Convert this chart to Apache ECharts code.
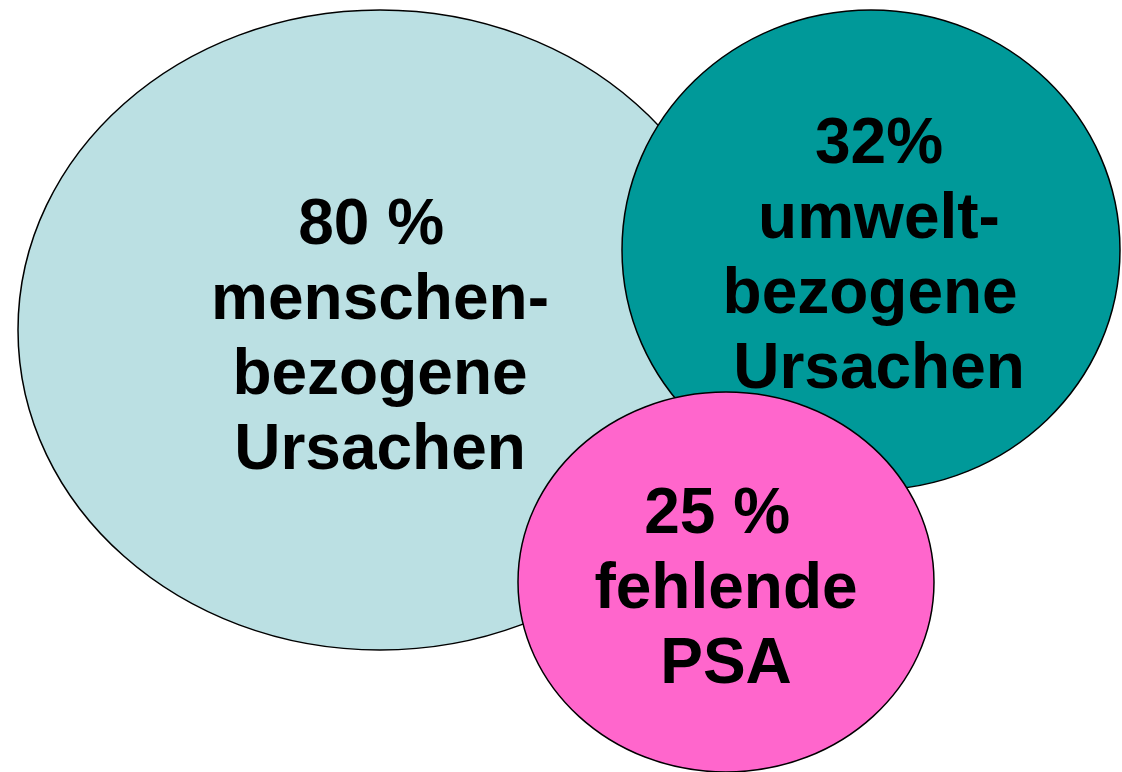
<!DOCTYPE html>
<html>
<head>
<meta charset="utf-8">
<script src="https://cdn.jsdelivr.net/npm/echarts@6/dist/echarts.min.js"></script>
<style>
  html, body { margin: 0; padding: 0; background: #fff; }
  #chart { width: 1122px; height: 772px; }
</style>
</head>
<body>
<div id="chart"></div>
<script>
// Ursachen von Unfällen – drei überlappende Ellipsen
const labels = ['80 % \nmenschen-\nbezogene\nUrsachen', '32%\numwelt-\nbezogene \nUrsachen', '25 % \nfehlende\nPSA']
const shares = [80, 32, 25]
const centerX = [380, 871, 726]
const centerY = [330, 250, 582]
const radiusX = [362, 249, 208]
const radiusY = [320, 240, 190]
const textX = [380, 879, 726]
const textY = [339, 258, 590]
const colors = ['#BBE0E3', '#009999', '#FF66CC']

const chart = echarts.init(document.getElementById('chart'))

const data = labels.map((l, i) => [centerX[i], centerY[i], radiusX[i], radiusY[i], textX[i], textY[i], shares[i]])

chart.setOption({
  animation: false,
  grid: { left: 0, right: 0, top: 0, bottom: 0 },
  xAxis: { type: 'value', min: 0, max: 1122, show: false },
  yAxis: { type: 'value', min: 0, max: 772, inverse: true, show: false },
  series: [{
    type: 'custom',
    data: data,
    renderItem: (params, api) => {
      const i = params.dataIndex
      const c = api.coord([api.value(0), api.value(1)])
      const s = api.size([api.value(2), api.value(3)])
      const t = api.coord([api.value(4), api.value(5)])
      return {
        type: 'group',
        children: [
          {
            type: 'ellipse',
            shape: { cx: c[0], cy: c[1], rx: s[0], ry: s[1] },
            style: { fill: colors[i], stroke: '#000', lineWidth: 1.5 }
          },
          {
            type: 'text',
            x: t[0], y: t[1],
            style: {
              text: labels[i],
              fill: '#000',
              fontFamily: 'Arial, "Liberation Sans", sans-serif',
              fontWeight: 'bold',
              fontSize: 64,
              lineHeight: 75,
              align: 'center',
              verticalAlign: 'middle'
            }
          }
        ]
      }
    }
  }]
})
</script>
</body>
</html>
